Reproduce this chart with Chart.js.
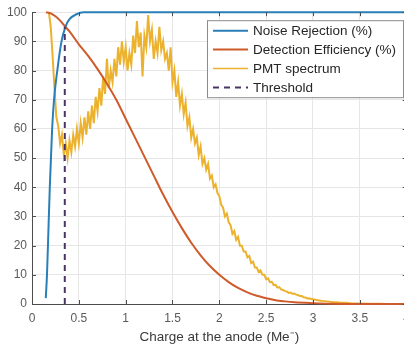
<!DOCTYPE html>
<html>
<head>
<meta charset="utf-8">
<script src="https://cdn.jsdelivr.net/npm/chart.js@4"></script>
<style>
  html, body { margin: 0; padding: 0; background: #fff; overflow: hidden; }
  #chart { display: block; }
</style>
</head>
<body>
<canvas id="chart" width="417" height="348" style="width:417px;height:348px"></canvas>
<script>
// x ticks / y ticks
const xTicks = [0, 0.5, 1, 1.5, 2, 2.5, 3, 3.5, 4];
const yTicks = [0, 10, 20, 30, 40, 50, 60, 70, 80, 90, 100];

// Noise Rejection (%)
const rejectionX = [0.147, 0.16, 0.175, 0.19, 0.2, 0.215, 0.235, 0.27, 0.315, 0.357, 0.4, 0.475, 0.55, 4];
const rejectionY = [2, 10, 25, 40, 48, 60, 70, 80, 90, 95, 97.6, 99.3, 100, 100];

// Detection Efficiency (%)
const efficiencyX = [0.15, 0.2, 0.25, 0.3, 0.35, 0.4, 0.5, 0.6, 0.7, 0.8, 0.9, 1.0, 1.1, 1.2, 1.3, 1.4, 1.5, 1.6, 1.7, 1.8,
  1.9, 2.0, 2.1, 2.2, 2.3, 2.4, 2.5, 2.6, 2.7, 2.8, 3.0, 3.2, 3.5, 4.0];
const efficiencyY = [100, 99.6, 98.6, 97.1, 95.2, 93.4, 89, 85, 80.5, 75.5, 70, 63.5, 57, 50.5, 44, 37.5, 31.5, 26, 21, 16.7,
  13, 10, 7.5, 5.5, 4, 2.8, 2, 1.3, 0.9, 0.6, 0.3, 0.1, 0.03, 0];

// PMT spectrum
const spectrumX = [0.18, 0.20, 0.22, 0.24, 0.26, 0.28, 0.30, 0.32, 0.34, 0.36, 0.38, 0.40, 0.42, 0.44, 0.46, 0.48,
  0.50, 0.52, 0.54, 0.56, 0.58, 0.60, 0.62, 0.64, 0.66, 0.68, 0.70, 0.72, 0.74, 0.76, 0.78, 0.80,
  0.82, 0.84, 0.86, 0.88, 0.90, 0.92, 0.94, 0.96, 0.98, 1.00, 1.02, 1.04, 1.06, 1.08, 1.10, 1.12,
  1.14, 1.16, 1.18, 1.20, 1.22, 1.24, 1.26, 1.28, 1.30, 1.32, 1.34, 1.36, 1.38, 1.40, 1.42, 1.44,
  1.46, 1.48, 1.50, 1.52, 1.54, 1.56, 1.58, 1.60, 1.62, 1.64, 1.66, 1.68, 1.70, 1.72, 1.74, 1.76,
  1.78, 1.80, 1.82, 1.84, 1.86, 1.88, 1.90, 1.92, 1.94, 1.96, 1.98, 2.00, 2.02, 2.04, 2.06, 2.08,
  2.10, 2.12, 2.14, 2.16, 2.18, 2.20, 2.22, 2.24, 2.26, 2.28, 2.30, 2.32, 2.34, 2.36, 2.38, 2.40,
  2.42, 2.44, 2.46, 2.48, 2.50, 2.52, 2.54, 2.56, 2.58, 2.60, 2.62, 2.64, 2.66, 2.68, 2.70, 2.72,
  2.74, 2.76, 2.78, 2.80, 2.82, 2.84, 2.86, 2.88, 2.90, 2.92, 2.94, 2.96, 2.98, 3.00, 3.05, 3.10,
  3.15, 3.20, 3.25, 3.30, 3.35, 3.40, 3.50, 3.60, 3.70, 3.80, 4.00];
const spectrumY = [100, 95, 85, 74, 64, 61, 55, 58, 51, 55, 50, 56, 52, 58, 54, 60,
  55, 62, 57, 64, 58, 66, 60, 68, 62, 71, 66, 74, 68, 78, 72, 84,
  74, 80, 76, 84, 78, 88, 82, 90, 83, 88, 80, 86, 82, 92, 86, 97,
  88, 93, 78, 92, 88, 99, 90, 94, 84, 90, 86, 95, 87, 90, 84, 86,
  80, 88, 76, 80, 71, 76, 68, 72, 65, 69, 61, 64, 57, 60, 55, 57,
  51, 54, 48, 50, 46, 48, 43, 44, 40, 41, 38, 37, 34, 33, 30, 31,
  28, 27, 24, 25, 22, 23, 20, 20, 18, 18, 16, 16.5, 14, 14.5, 12.5, 12.5,
  11, 11.5, 10, 10, 8.5, 8.8, 7.5, 7.6, 6.5, 6.6, 5.6, 5.8, 5, 4.8, 4.4, 4.3,
  3.8, 3.9, 3.5, 3.6, 3.2, 3.1, 2.7, 2.7, 2.3, 2.2, 1.9, 2.0, 1.7, 1.6, 1.3, 1.0,
  0.9, 0.7, 0.6, 0.4, 0.4, 0.3, 0.2, 0.1, 0.05, 0, 0];

// Threshold
const thresholdX = [0.35, 0.35];
const thresholdY = [0, 95];

const toPoints = (xs, ys) => xs.map((x, i) => ({ x: x, y: ys[i] }));

const FONT = '"Liberation Sans", Arial, Helvetica, sans-serif';

// legend drawn inside the plot, MATLAB style (anchored to the left of the plot area)
const insideLegend = {
  id: 'insideLegend',
  afterDraw(chart) {
    const ctx = chart.ctx;
    const area = chart.chartArea;
    const left = area.left + 175;
    const top = area.top + 8;
    const width = 196;
    const height = 77;
    ctx.save();
    ctx.fillStyle = '#ffffff';
    ctx.fillRect(left, top, width, height);
    ctx.strokeStyle = '#8c8c8c';
    ctx.lineWidth = 1;
    ctx.strokeRect(left + 0.5, top + 0.5, width, height);
    ctx.font = '13.5px ' + FONT;
    ctx.textBaseline = 'middle';
    chart.data.datasets.forEach((ds, i) => {
      const y = top + 10.5 + i * 18.9;
      ctx.beginPath();
      ctx.strokeStyle = ds.borderColor;
      ctx.lineWidth = ds.legendWidth;
      ctx.setLineDash(ds.borderDash || []);
      ctx.moveTo(left + 6, y);
      ctx.lineTo(left + 41, y);
      ctx.stroke();
      ctx.setLineDash([]);
      ctx.fillStyle = '#262626';
      ctx.fillText(ds.label, left + 46, y + 0.5);
    });
    ctx.restore();
  }
};

// box and inward ticks
const boxTicks = {
  id: 'boxTicks',
  afterDatasetsDraw(chart) {
    const ctx = chart.ctx;
    const a = chart.chartArea;
    const xs = chart.scales.x, ys = chart.scales.y;
    ctx.save();
    ctx.strokeStyle = '#4d4d4d';
    ctx.lineWidth = 1;
    ctx.beginPath();
    xTicks.forEach(t => {
      const px = Math.round(xs.getPixelForValue(t)) + 0.5;
      ctx.moveTo(px, a.bottom); ctx.lineTo(px, a.bottom - 4);
      ctx.moveTo(px, a.top); ctx.lineTo(px, a.top + 4);
    });
    yTicks.forEach(t => {
      const py = Math.round(ys.getPixelForValue(t)) + 0.5;
      ctx.moveTo(a.left, py); ctx.lineTo(a.left + 4, py);
      ctx.moveTo(a.right, py); ctx.lineTo(a.right - 4, py);
    });
    ctx.stroke();
    ctx.restore();
  }
};

new Chart(document.getElementById('chart'), {
  type: 'line',
  data: {
    datasets: [
      {
        label: 'Noise Rejection (%)',
        data: toPoints(rejectionX, rejectionY),
        borderColor: '#2a7fb8',
        borderWidth: 2,
        legendWidth: 2,
        cubicInterpolationMode: 'monotone',
        order: 1
      },
      {
        label: 'Detection Efficiency (%)',
        data: toPoints(efficiencyX, efficiencyY),
        borderColor: '#cf5a2a',
        borderWidth: 2,
        legendWidth: 2,
        cubicInterpolationMode: 'monotone',
        order: 2
      },
      {
        label: 'PMT spectrum',
        data: toPoints(spectrumX, spectrumY),
        borderColor: '#ecb22e',
        borderWidth: 2,
        legendWidth: 1.5,
        tension: 0,
        order: 3
      },
      {
        label: 'Threshold',
        data: toPoints(thresholdX, thresholdY),
        borderColor: '#4a3466',
        borderWidth: 2,
        legendWidth: 2,
        borderDash: [6, 5],
        order: 0
      }
    ]
  },
  options: {
    responsive: false,
    animation: false,
    layout: { padding: { top: 11, right: 6.5, left: 0, bottom: 0 } },
    elements: { point: { radius: 0, hoverRadius: 0 } },
    datasets: { line: { clip: 4, fill: false } },
    plugins: {
      legend: { display: false },
      tooltip: { enabled: false }
    },
    scales: {
      x: {
        type: 'linear',
        min: 0,
        max: 4,
        afterBuildTicks: s => { s.ticks = xTicks.map(v => ({ value: v })); },
        afterFit: s => { s.height = 44; },
        grid: { color: '#e6e6e6', drawTicks: false },
        border: { color: '#4d4d4d' },
        ticks: {
          padding: 7,
          color: '#5a5a5a',
          font: { family: FONT, size: 12 },
          maxRotation: 0,
          callback: v => String(v)
        },
        title: {
          display: true,
          text: 'Charge at the anode (Me⁻)',
          color: '#3a3a3a',
          font: { family: FONT, size: 13.5 },
          padding: { top: 2, bottom: 3 }
        }
      },
      y: {
        min: 0,
        max: 100,
        afterBuildTicks: s => { s.ticks = yTicks.map(v => ({ value: v })); },
        afterFit: s => { s.width = 32; },
        grid: { color: '#e6e6e6', drawTicks: false },
        border: { color: '#4d4d4d' },
        ticks: {
          padding: 5,
          color: '#5a5a5a',
          font: { family: FONT, size: 12 }
        }
      }
    }
  },
  plugins: [boxTicks, insideLegend]
});
</script>
</body>
</html>
